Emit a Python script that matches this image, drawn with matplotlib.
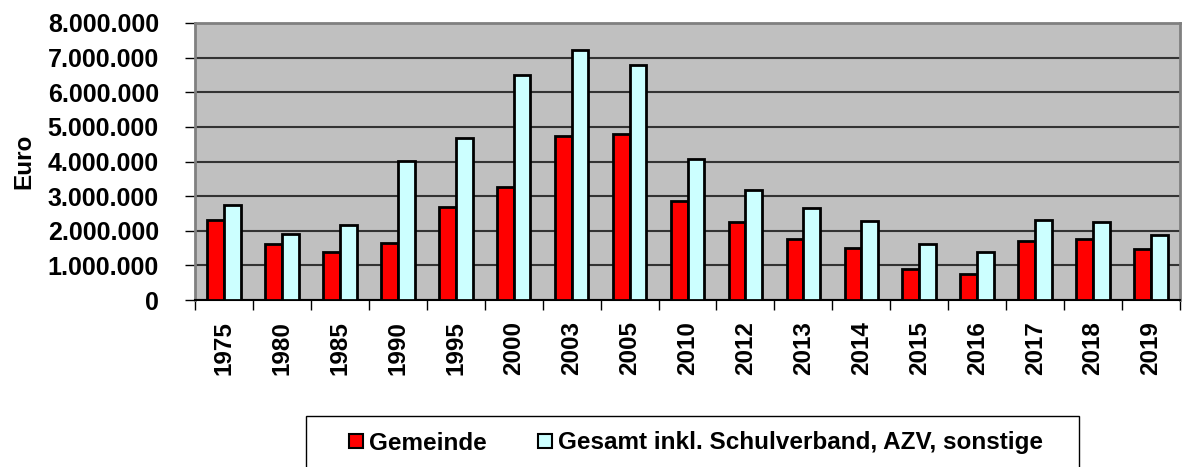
import numpy as np
import matplotlib.pyplot as plt
from matplotlib.ticker import FuncFormatter, MultipleLocator
from matplotlib.patches import Patch, Rectangle

years = ["1975", "1980", "1985", "1990", "1995", "2000", "2003", "2005", "2010",
         "2012", "2013", "2014", "2015", "2016", "2017", "2018", "2019"]
gemeinde = [2310000, 1620000, 1400000, 1640000, 2700000, 3250000, 4740000, 4800000, 2860000,
            2250000, 1750000, 1510000, 890000, 750000, 1710000, 1750000, 1470000]
gesamt = [2750000, 1900000, 2170000, 4020000, 4670000, 6510000, 7210000, 6780000, 4080000,
          3180000, 2670000, 2290000, 1620000, 1390000, 2300000, 2240000, 1880000]

plt.rcParams['font.family'] = ['Liberation Sans', 'DejaVu Sans']
plt.rcParams['font.weight'] = 'bold'

W, H = 1187, 467
fig = plt.figure(figsize=(W / 100, H / 100), dpi=100)
ax = fig.add_axes([195 / W, 1 - 300 / H, 985 / W, 277 / H])

x = np.arange(len(years))
w = 0.29
ax.bar(x - w / 2, gemeinde, w, color="#FF0000", edgecolor="black", linewidth=2, zorder=3)
ax.bar(x + w / 2, gesamt, w, color="#CCFFFF", edgecolor="black", linewidth=2, zorder=3)

ax.set_facecolor("#C0C0C0")
ax.set_xlim(-0.5, len(years) - 0.5)
ax.set_ylim(0, 8000000)
ax.yaxis.set_major_locator(MultipleLocator(1000000))
ax.yaxis.set_major_formatter(FuncFormatter(lambda v, p: f"{int(v):,}".replace(",", ".")))
ax.grid(axis="y", color="#333333", linewidth=1.5, zorder=1)

ax.set_xticks(x)
ax.set_xticklabels(years, rotation=90, fontsize=17.5, fontweight="bold")
ax.set_xticks(np.arange(len(years) + 1) - 0.5, minor=True)
ax.tick_params(axis="x", which="major", length=0, pad=15)
ax.tick_params(axis="x", which="minor", length=7, width=1, color="black")
ax.tick_params(axis="y", length=7, width=1, labelsize=18, pad=19)
for lab in ax.get_yticklabels():
    lab.set_fontweight("bold")

for s in ["right", "top", "left"]:
    ax.spines[s].set_color("#808080")
    ax.spines[s].set_linewidth(2)
ax.spines["bottom"].set_color("black")
ax.spines["bottom"].set_linewidth(1.5)

fig.text(24 / W, 1 - 161 / H, "Euro", rotation=90, fontsize=17.5, fontweight="bold",
         ha="center", va="center")

# legend frame
fig.patches.append(Rectangle((306 / W, -0.02), (1079 - 306) / W, 1 - 416 / H + 0.02,
                             transform=fig.transFigure, facecolor="white",
                             edgecolor="black", linewidth=1))
handles = [Patch(facecolor="#FF0000", edgecolor="black", linewidth=1.5),
           Patch(facecolor="#CCFFFF", edgecolor="black", linewidth=1.5)]
fig.legend(handles, ["Gemeinde", "Gesamt inkl. Schulverband, AZV, sonstige"],
           loc="center", bbox_to_anchor=(696 / W, 1 - 443 / H), ncol=2, frameon=False,
           prop={"size": 17.5, "weight": "bold"}, handlelength=0.58, handleheight=0.5,
           handletextpad=0.25, columnspacing=2.1, borderpad=0)

fig.savefig("out.png", dpi=100)
